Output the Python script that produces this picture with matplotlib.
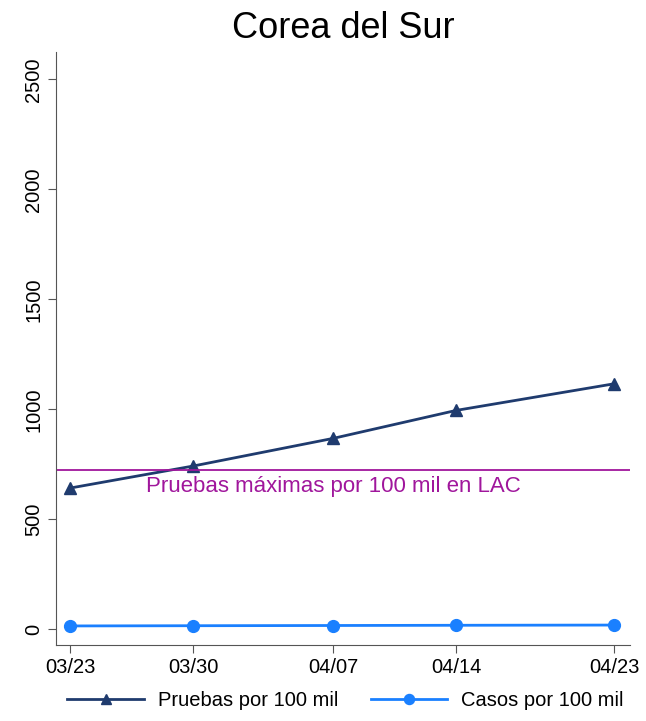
import numpy as np
import matplotlib.pyplot as plt
import datetime as dt

plt.rcParams['font.family'] = ['Liberation Sans', 'DejaVu Sans']

# Data
fechas = ["2020-03-23", "2020-03-30", "2020-04-07", "2020-04-14", "2020-04-23"]
etiquetas = ["03/23", "03/30", "04/07", "04/14", "04/23"]
pruebas = [642, 742, 868, 995, 1116]
casos = [15, 16, 17, 18, 19]
max_lac = 723
yticks = [0, 500, 1000, 1500, 2000, 2500]

x = [dt.datetime.strptime(f, "%Y-%m-%d") for f in fechas]

fig = plt.figure(figsize=(6.46, 7.21), dpi=100)
ax = fig.add_axes([0.087, 0.105, 0.888, 0.823])

ax.plot(x, pruebas, color="#1f3b6e", lw=2, marker="^", ms=8.5, label="Pruebas por 100 mil")
ax.plot(x, casos, color="#1a80ff", lw=2, marker="o", ms=8.5, label="Casos por 100 mil")
ax.axhline(max_lac, color="#a0169c", lw=1.3)
ax.text(x[2], 648, "Pruebas máximas por 100 mil en LAC", color="#a0169c",
        fontsize=16, ha="center", va="center")

ax.set_xlim(x[0] - dt.timedelta(days=0.8), x[-1] + dt.timedelta(days=0.9))
ax.set_ylim(-73, 2625)
ax.set_xticks(x)
ax.set_xticklabels(etiquetas, fontsize=14.5)
ax.set_yticks(yticks)
ax.set_yticklabels([str(v) for v in yticks], fontsize=14.5, rotation=90, va="center")
ax.tick_params(direction="out", length=6, color="#555555")
for side in ["top", "right"]:
    ax.spines[side].set_visible(False)
for side in ["left", "bottom"]:
    ax.spines[side].set_color("#555555")

ax.set_title("Corea del Sur", fontsize=26, pad=10)
fig.legend(loc="lower center", ncol=2, frameon=False, fontsize=14.5,
           bbox_to_anchor=(0.535, -0.01), handlelength=3.8, handletextpad=0.7,
           columnspacing=1.6, markerscale=0.85)

fig.savefig("out.png", dpi=100)
